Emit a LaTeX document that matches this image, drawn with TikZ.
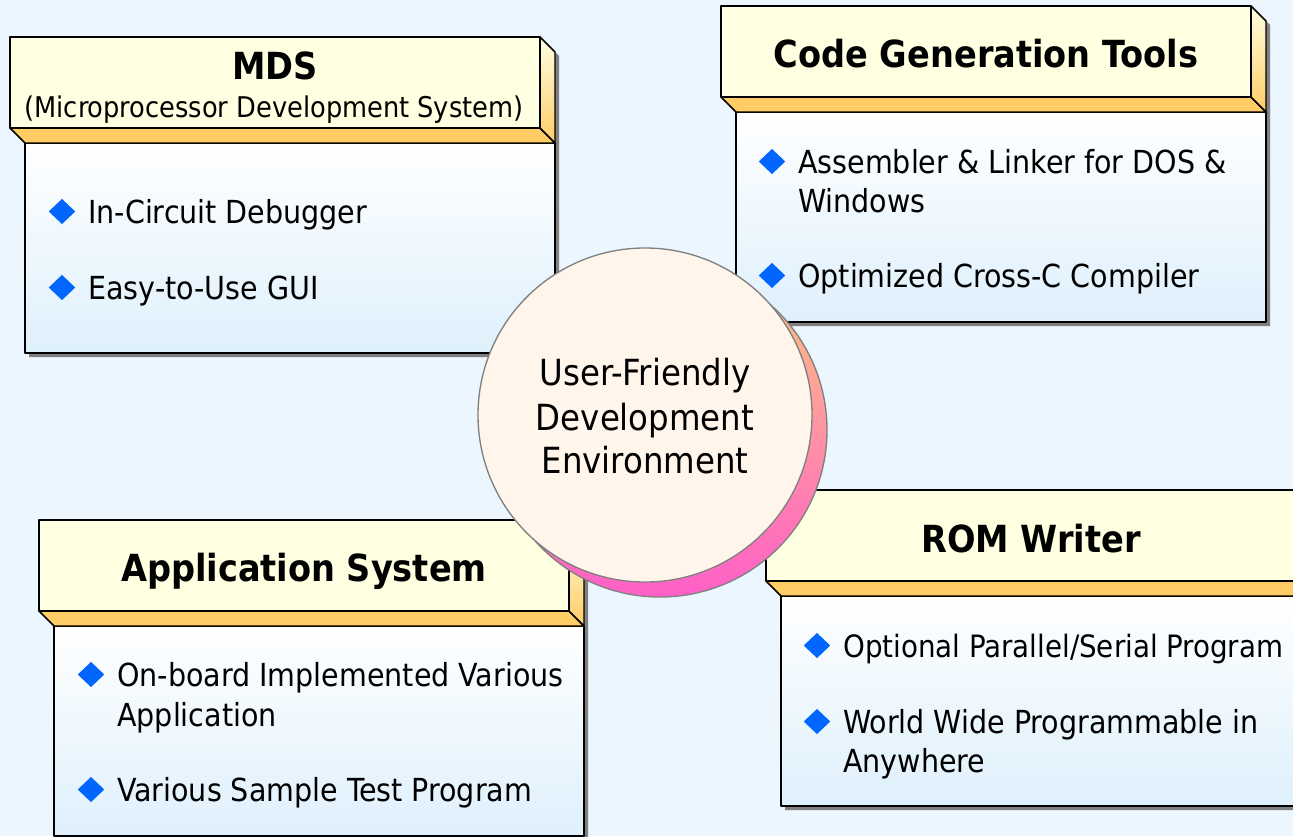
\documentclass[tikz,border=0pt]{standalone}
\usepackage{fontspec}
\setmainfont{DejaVu Sans Condensed}
\usetikzlibrary{shapes.geometric}
\definecolor{bg}{RGB}{236,246,254}
\definecolor{hdr}{RGB}{255,255,225}
\definecolor{org}{RGB}{255,204,102}
\definecolor{bodyblue}{RGB}{222,240,252}
\definecolor{shd}{RGB}{128,128,128}
\definecolor{bul}{RGB}{0,102,255}
\definecolor{hubfill}{RGB}{255,245,235}
\definecolor{peach}{RGB}{255,200,125}
\definecolor{pinkmid}{RGB}{255,150,170}
\definecolor{pinkc}{RGB}{255,95,200}
\tikzset{
  edge/.style={draw=black, line width=1.1pt, line join=round},
  bulletmark/.style={diamond, fill=bul, inner sep=0pt, minimum width=20pt, minimum height=19pt},
  itemtxt/.style={anchor=base west, inner sep=0pt, font=\fontsize{23.8}{28}\selectfont},
  titletxt/.style={anchor=base, inner sep=0pt, font=\fontsize{28}{33}\selectfont\bfseries},
  subtxt/.style={anchor=base, inner sep=0pt, font=\fontsize{21.4}{24}\selectfont},
  hubtxt/.style={anchor=base, inner sep=0pt, font=\fontsize{27}{32}\selectfont},
}
\newcommand{\featbox}[2]{%
  \fill[shd] (#1+534,#2+4) -- (#1+549,#2+19) -- (#1+549,#2+320) -- (#1+19,#2+320) -- (#1+19,#2+95) -- (#1+534,#2+95) -- cycle;
  \shade[top color=white, bottom color=bodyblue, edge] (#1+15,#2+106) rectangle (#1+545,#2+316);
  \fill[org, edge] (#1,#2+91) -- (#1+530,#2+91) -- (#1+545,#2+106) -- (#1+15,#2+106) -- cycle;
  \shade[top color=hdr, bottom color=org, edge] (#1+530,#2) -- (#1+545,#2+15) -- (#1+545,#2+106) -- (#1+530,#2+91) -- cycle;
  \fill[hdr, edge] (#1,#2) rectangle (#1+530,#2+91);
}
\begin{document}
\begin{tikzpicture}[x=0.75pt, y=-0.75pt]
\useasboundingbox (0,0) rectangle (1293,836);
\fill[bg] (0,0) rectangle (1293,836);
\clip (0,0) rectangle (1293,836);

% MDS
\featbox{10}{37}
\node[titletxt] (mdsT) at (275,79) {MDS};
\node[subtxt] (mdsS) at (274,117) {(Microprocessor Development System)};
\node[bulletmark] (mdsB1) at (62,211.5) {};
\node[itemtxt] (mdsI1) at (88,223) {In-Circuit Debugger};
\node[bulletmark] (mdsB2) at (62,287.5) {};
\node[itemtxt] (mdsI2) at (88,299) {Easy-to-Use GUI};

% Code Generation Tools
\featbox{721}{6}
\node[titletxt] (cgtT) at (986,67) {Code Generation Tools};
\node[bulletmark] (cgtB1) at (772,161.5) {};
\node[itemtxt] (cgtI1) at (798,173) {Assembler \& Linker for DOS \&};
\node[itemtxt] (cgtI1b) at (798,212) {Windows};
\node[bulletmark] (cgtB2) at (772,275.5) {};
\node[itemtxt] (cgtI2) at (798,287) {Optimized Cross-C Compiler};

% Application System
\featbox{39}{520}
\node[titletxt] (appT) at (304,581) {Application System};
\node[bulletmark] (appB1) at (91,674.5) {};
\node[itemtxt] (appI1) at (117,686) {On-board Implemented Various};
\node[itemtxt] (appI1b) at (117,726) {Application};
\node[bulletmark] (appB2) at (91,789.5) {};
\node[itemtxt] (appI2) at (117,801) {Various Sample Test Program};

% ROM Writer
\featbox{766}{490}
\node[titletxt] (romT) at (1031,552) {ROM Writer};
\node[bulletmark] (romB1) at (817,645.5) {};
\node[itemtxt, font=\fontsize{23.1}{28}\selectfont] (romI1) at (843,657) {Optional Parallel/Serial Program};
\node[bulletmark] (romB2) at (817,721.5) {};
\node[itemtxt] (romI2) at (843,733) {World Wide Programmable in};
\node[itemtxt] (romI2b) at (843,772) {Anywhere};

% hub
\draw[draw=shd, line width=1pt, top color=peach, middle color=pinkmid, bottom color=pinkc] (660,430) circle (167);
\node[circle, draw=shd, fill=hubfill, line width=1pt, minimum size=250.5pt, inner sep=0pt] (hub) at (645,415) {};
\node[hubtxt] (hub1) at (645,385) {User-Friendly};
\node[hubtxt] (hub2) at (645,430) {Development};
\node[hubtxt] (hub3) at (645,473) {Environment};
\end{tikzpicture}
\end{document}
